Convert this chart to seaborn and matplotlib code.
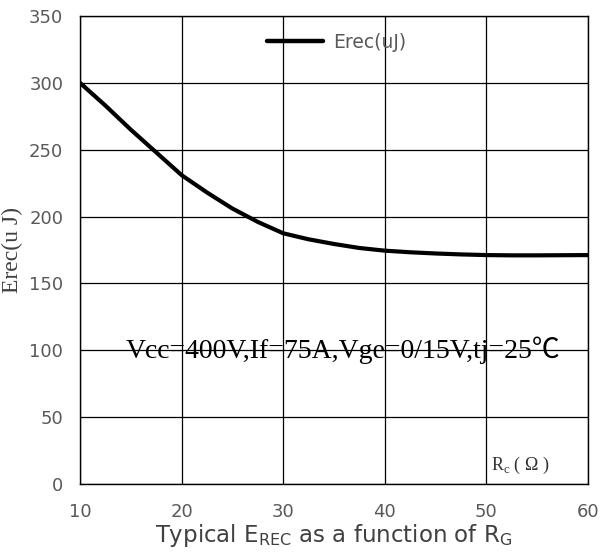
import matplotlib
matplotlib.use("Agg")
import matplotlib.pyplot as plt
import seaborn as sns
import pandas as pd

rg = [10, 12.5, 15, 17.5, 20, 22.5, 25, 27.5, 30, 32.5, 35, 37.5, 40, 42.5, 45, 47.5, 50, 52.5, 55, 57.5, 60]
erec = [300, 283, 265, 248, 231, 218, 206, 196, 187.5, 183, 179.5, 176.5, 174.5, 173.3, 172.4, 171.7, 171.2, 171, 171, 171.1, 171.2]

df = pd.DataFrame({"Rg": rg, "Erec(uJ)": erec})

sns.set_style("white")
plt.rcParams["font.family"] = ["DejaVu Sans"]
serif_cjk = ["Liberation Serif", "Noto Sans CJK SC", "DejaVu Serif"]

fig = plt.figure(figsize=(6.03, 5.53), dpi=100)
ax = fig.add_axes([80/603, 1-484/553, 508/603, 468/553])

sns.lineplot(data=df, x="Rg", y="Erec(uJ)", ax=ax, color="black", linewidth=3, label="Erec(uJ)")

ax.set_xlim(10, 60)
ax.set_ylim(0, 350)
ax.set_xticks([10, 20, 30, 40, 50, 60])
ax.set_yticks(range(0, 351, 50))
ax.grid(True, color="black", linewidth=0.9)
for s in ax.spines.values():
    s.set_color("black")
    s.set_linewidth(1.0)
ax.tick_params(axis="both", length=0, labelsize=13, labelcolor="#595959")
ax.tick_params(axis="x", pad=13.5)
ax.tick_params(axis="y", pad=12)

ax.set_xlabel(r"Typical E$_\mathregular{REC}$ as a function of R$_\mathregular{G}$",
              fontsize=16.5, color="#404040")
ax.xaxis.set_label_coords(0.5, -0.081)
ax.set_ylabel("Erec(u J)", family=["Liberation Serif", "DejaVu Serif"], fontsize=17,
              color="#404040")
ax.yaxis.set_label_coords(-0.112, 0.50)

leg = ax.legend(loc="upper left", bbox_to_anchor=(0.335, 1.0), frameon=False,
                fontsize=13.5, handlelength=3.0, handletextpad=0.5)
for line in leg.get_lines():
    line.set_linewidth(3.2)
for t in leg.get_texts():
    t.set_color("#595959")

ax.text(0.09, 100, "Vcc=400V,If=75A,Vge=0/15V,tj=25℃", transform=ax.get_yaxis_transform(),
        family=serif_cjk, fontsize=20, color="black", va="center", ha="left")
ax.text(0.81, 14, r"R$_\mathregular{c}$ ( Ω )", transform=ax.get_yaxis_transform(),
        family=["Liberation Serif", "DejaVu Serif"], fontsize=13, color="#333333",
        va="center", ha="left")

fig.savefig("out.png", dpi=100)
